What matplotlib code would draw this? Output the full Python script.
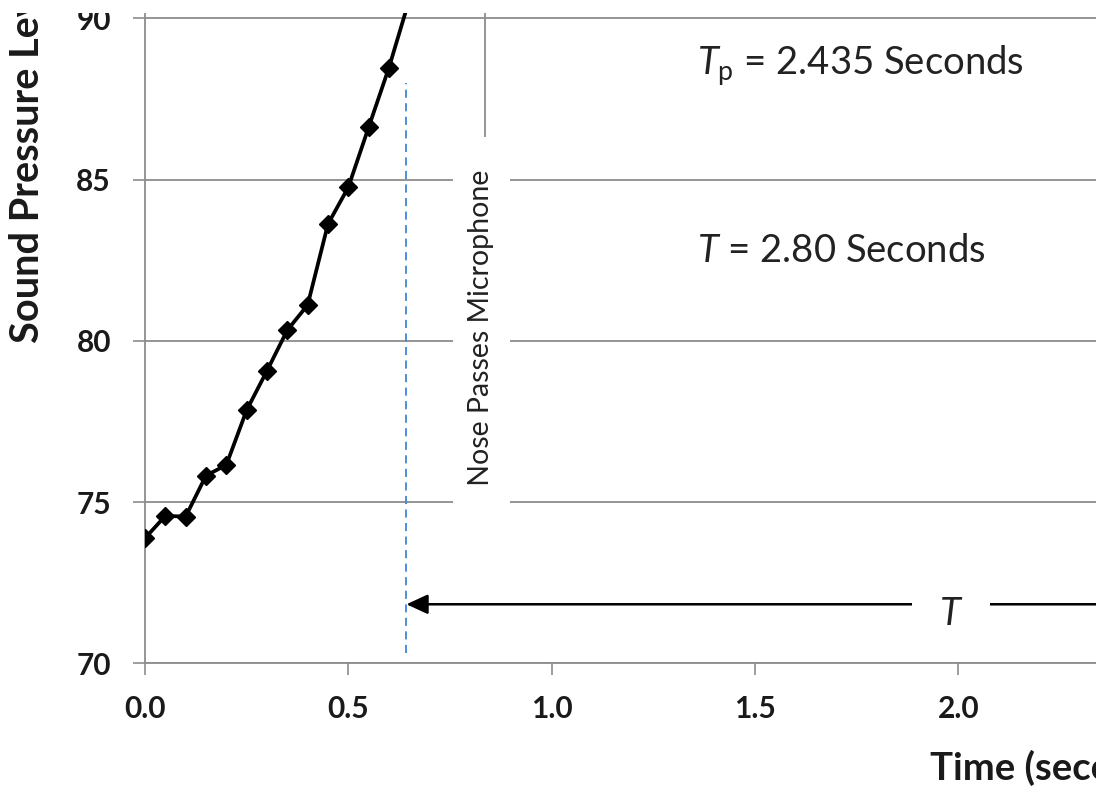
import matplotlib
matplotlib.use("Agg")
import matplotlib.pyplot as plt
from matplotlib.patches import Rectangle

# Measured sound pressure level during the approach
time_s = [0.00, 0.05, 0.10, 0.15, 0.20, 0.25, 0.30, 0.35, 0.40, 0.45, 0.50, 0.55, 0.60, 0.65]
spl_db = [73.88, 74.57, 74.55, 75.82, 76.15, 77.85, 79.07, 80.33, 81.11, 83.62, 84.76, 86.62, 88.47, 90.58]

x_ticks = [0.0, 0.5, 1.0, 1.5, 2.0]
x_tick_labels = ["0.0", "0.5", "1.0", "1.5", "2.0"]
y_ticks = [70, 75, 80, 85, 90]
y_tick_labels = ["70", "75", "80", "85", "90"]

# Event markers
start_time = 0.643          # start of the interval T (dashed marker)
start_marker_range = (70.32, 87.99)
nose_pass_time = 0.835      # nose passes microphone
nose_line_bottom = 86.32
arrow_level = 71.83
interval_T = 2.80
interval_Tp = 2.435

plt.rcParams['font.family'] = ['Lato', 'DejaVu Sans']
plt.rcParams['mathtext.fontset'] = 'custom'
plt.rcParams['mathtext.rm'] = 'Lato'
plt.rcParams['mathtext.it'] = 'Lato:italic'

W, H = 1102, 795
fig = plt.figure(figsize=(W / 100, H / 100), dpi=100)
fig.patch.set_facecolor('white')

# axes geometry in pixels (plot area runs past the right edge of the canvas)
px_left, px_bottom, px_top, px_right = 145, 663.3, 13, 1500
px_per_s, px_per_db = 406.6, 32.25
ax = fig.add_axes([px_left / W, (H - px_bottom) / H,
                   (px_right - px_left) / W, (px_bottom - px_top) / H])
ax.set_xlim(0, (px_right - px_left) / px_per_s)
ax.set_ylim(70, 70 + (px_bottom - px_top) / px_per_db)

grid_c = '#8c8c8c'
text_c = '#1a1a1a'
for s in ['top', 'right']:
    ax.spines[s].set_visible(False)
for s in ['left', 'bottom']:
    ax.spines[s].set_color(grid_c)
    ax.spines[s].set_linewidth(1.3)

ax.set_xticks(x_ticks)
ax.set_xticklabels(x_tick_labels, fontweight='bold')
ax.set_yticks(y_ticks)
ax.set_yticklabels(y_tick_labels, fontweight='bold')
ax.tick_params(axis='both', direction='out', length=8.5, width=1.2,
               color=grid_c, labelsize=21.5, labelcolor=text_c)
ax.tick_params(axis='x', pad=14)
ax.tick_params(axis='y', pad=16)
ax.yaxis.grid(True, color=grid_c, linewidth=1.3)
ax.set_axisbelow(True)

# SPL trace
ax.plot(time_s, spl_db, color='black', linewidth=2.7, marker='D',
        markersize=9.5, zorder=5)

# start-of-interval marker
ax.vlines(start_time, *start_marker_range, colors='#3f86d4', linewidth=1.3,
          linestyles=(0, (4.5, 3)), zorder=4)

# nose passes microphone
ax.vlines(nose_pass_time, nose_line_bottom, 95, colors=grid_c, linewidth=1.3, zorder=2)
ax.text(nose_pass_time - 0.008, 80.41, " Nose Passes Microphone ", rotation=90,
        ha='center', va='center', fontsize=20.5, color='#222222', zorder=3,
        bbox=dict(boxstyle='square,pad=0.55', fc='white', ec='none'))

# interval arrow
ax.annotate('', xy=(start_time, arrow_level),
            xytext=(start_time + interval_T, arrow_level),
            arrowprops=dict(arrowstyle='-|>,head_length=0.65,head_width=0.3',
                            mutation_scale=20, color='black', lw=1.8,
                            shrinkA=0, shrinkB=0),
            zorder=4, annotation_clip=False)
ax.text(1.982, 71.19, '$T$ ', ha='center', va='baseline', fontsize=27.5,
        color='#222222', zorder=6,
        bbox=dict(boxstyle='square,pad=0.7', fc='white', ec='none'))

ax.text(1.358, 88.24, r'$T_{\rm p}$ = ' + f'{interval_Tp:.3f} Seconds',
        ha='left', va='baseline', fontsize=27.5, color='#222222')
ax.text(1.358, 82.45, r'$T$ = ' + f'{interval_T:.2f} Seconds',
        ha='left', va='baseline', fontsize=27.5, color='#222222')

# axis titles
fig.text(28 / W, (H - 343) / H, 'Sound Pressure Level (dBA)', rotation=90,
         ha='center', va='bottom', fontsize=28.5, fontweight='bold', color=text_c)
fig.text(930 / W, (H - 780) / H, 'Time (seconds)', ha='left', va='baseline',
         fontsize=27.5, fontweight='bold', color=text_c)

# canvas margins
fig.add_artist(Rectangle((0, (H - px_top) / H), 1, px_top / H,
                         transform=fig.transFigure, fc='white', ec='none', zorder=20))
fig.add_artist(Rectangle((1096 / W, 0), 6 / W, 1,
                         transform=fig.transFigure, fc='white', ec='none', zorder=20))

fig.savefig('out.png', dpi=100)
